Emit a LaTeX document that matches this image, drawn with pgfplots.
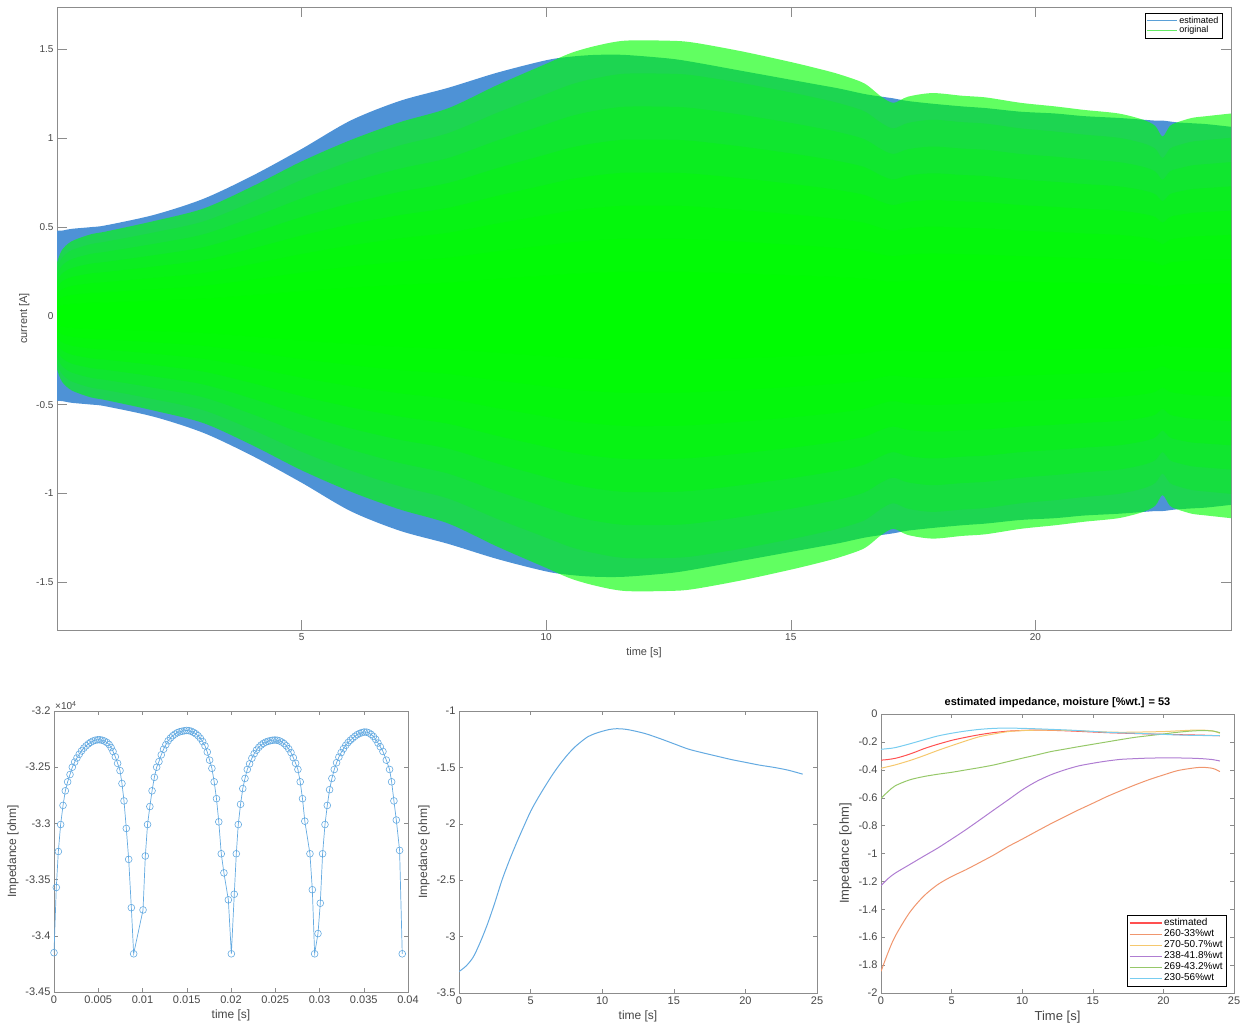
\documentclass[border=0pt]{standalone}
\usepackage{fontspec}
\setmainfont{Liberation Sans}
\usepackage{pgfplots}
\usepackage{pgfplotstable}
\pgfplotsset{compat=1.18}
\usepgfplotslibrary{fillbetween}

\definecolor{estblue}{RGB}{78,146,214}
\definecolor{orggreen}{RGB}{0,255,0}
\definecolor{legblue}{RGB}{90,160,215}
\definecolor{leggreen}{RGB}{100,235,100}
\definecolor{axgray}{RGB}{140,140,140}
\definecolor{txtgray}{RGB}{70,70,70}
\definecolor{zblue}{RGB}{100,170,225}
\definecolor{cred}{RGB}{255,80,80}
\definecolor{corange}{RGB}{240,150,110}
\definecolor{cyellow}{RGB}{245,200,110}
\definecolor{cpurple}{RGB}{175,125,210}
\definecolor{cgreen}{RGB}{150,200,105}
\definecolor{ccyan}{RGB}{120,205,240}

% envelope of the current signals (amplitude, symmetric)
\pgfplotstableread{
t     est    org
0     0.48   0.30
0.1   0.48   0.37
0.3   0.49   0.42
0.7   0.50   0.46
1     0.51   0.475
2     0.57   0.535
3     0.66   0.605
4     0.79   0.73
5     0.94   0.87
6     1.10   0.99
7     1.21   1.09
8     1.285  1.17
9     1.37   1.30
10    1.44   1.42
10.5  1.46   1.48
11    1.47   1.52
11.6  1.47   1.55
12.5  1.45   1.55
13    1.43   1.54
14    1.38   1.49
15    1.33   1.43
15.6  1.30   1.39
16    1.28   1.36
16.5  1.25   1.31
16.85 1.235  1.235
17.1  1.225  1.20
17.4  1.21   1.235
17.9  1.195  1.255
18.5  1.18   1.24
19    1.17   1.23
19.7  1.15   1.20
20.4  1.14   1.18
21    1.125  1.16
21.7  1.115  1.14
22.2  1.105  1.105
22.45 1.10   1.07
22.6  1.10   1.01
22.75 1.095  1.07
22.9  1.09   1.09
23.2  1.085  1.115
23.5  1.08   1.125
24    1.065  1.14
}\envtab

\pgfplotstableread{
t y
0 -3.415
0.00026 -3.357
0.00049 -3.325
0.00075 -3.301
0.00102 -3.284
0.00128 -3.271
0.00154 -3.263
0.00181 -3.2565
0.00207 -3.250
0.00233 -3.2455
0.00259 -3.2418
0.00285 -3.2385
0.00311 -3.2355
0.00337 -3.233
0.00363 -3.231
0.00389 -3.2292
0.00415 -3.2278
0.00441 -3.2267
0.00467 -3.226
0.00493 -3.2256
0.00519 -3.2256
0.00545 -3.226
0.00571 -3.2268
0.00597 -3.228
0.00623 -3.2298
0.00645 -3.2325
0.00667 -3.236
0.00693 -3.2407
0.00719 -3.2466
0.00746 -3.253
0.00768 -3.2645
0.00791 -3.280
0.00817 -3.3045
0.00844 -3.332
0.00874 -3.375
0.00900 -3.416
0.01006 -3.377
0.01032 -3.329
0.01057 -3.301
0.01083 -3.285
0.01108 -3.271
0.01134 -3.259
0.01160 -3.250
0.01186 -3.245
0.01212 -3.239
0.01238 -3.234
0.01264 -3.230
0.01290 -3.2265
0.01316 -3.224
0.01342 -3.222
0.01368 -3.2205
0.01394 -3.2193
0.01420 -3.2185
0.01446 -3.218
0.01472 -3.2176
0.01498 -3.2173
0.01524 -3.2175
0.01550 -3.218
0.01576 -3.219
0.01602 -3.2203
0.01628 -3.222
0.01654 -3.2243
0.01680 -3.2272
0.01706 -3.231
0.01732 -3.2365
0.01758 -3.2437
0.01784 -3.251
0.01810 -3.263
0.01836 -3.278
0.01862 -3.2986
0.01890 -3.327
0.01920 -3.344
0.01970 -3.368
0.02004 -3.416
0.02037 -3.363
0.02060 -3.327
0.02082 -3.301
0.02108 -3.283
0.02133 -3.269
0.02158 -3.260
0.02184 -3.252
0.02210 -3.247
0.02236 -3.242
0.02262 -3.238
0.02288 -3.2348
0.02314 -3.2323
0.02340 -3.2303
0.02366 -3.2288
0.02392 -3.2277
0.02418 -3.227
0.02444 -3.2264
0.02470 -3.226
0.02496 -3.2258
0.02522 -3.226
0.02548 -3.2266
0.02574 -3.2276
0.02600 -3.229
0.02626 -3.2310
0.02652 -3.2336
0.02678 -3.237
0.02704 -3.2415
0.02730 -3.2465
0.02756 -3.252
0.02782 -3.263
0.02808 -3.278
0.02834 -3.298
0.02892 -3.327
0.02919 -3.359
0.02945 -3.416
0.02983 -3.398
0.03009 -3.371
0.03035 -3.327
0.03062 -3.301
0.03088 -3.284
0.03114 -3.270
0.03140 -3.260
0.03167 -3.252
0.03193 -3.246
0.03219 -3.241
0.03245 -3.237
0.03271 -3.2335
0.03297 -3.2305
0.03323 -3.228
0.03349 -3.226
0.03375 -3.2242
0.03401 -3.2225
0.03427 -3.221
0.03453 -3.220
0.03479 -3.2192
0.03505 -3.2187
0.03531 -3.2188
0.03557 -3.2195
0.03583 -3.2208
0.03609 -3.2226
0.03635 -3.2252
0.03661 -3.2285
0.03687 -3.2318
0.03717 -3.236
0.03755 -3.2437
0.03792 -3.252
0.03815 -3.263
0.03841 -3.280
0.03868 -3.297
0.03905 -3.324
0.03935 -3.416
}\ztab

\pgfplotstableread{
t y
0 -3.31
0.5 -3.26
1 -3.18
1.5 -3.045
2 -2.885
2.5 -2.70
3 -2.50
3.5 -2.33
4 -2.175
4.5 -2.03
5 -1.89
5.5 -1.775
6 -1.67
6.5 -1.57
7 -1.48
7.5 -1.40
8 -1.33
8.5 -1.275
9 -1.228
9.5 -1.20
10 -1.18
10.5 -1.164
11 -1.157
11.5 -1.16
12 -1.17
13 -1.20
14 -1.243
15 -1.29
16 -1.337
17 -1.37
18 -1.40
19 -1.43
20 -1.455
21 -1.48
22 -1.50
23 -1.525
24 -1.56
}\midtab

\pgfplotstableread{
t a b c d e
0  -1.845 -0.389 -1.231 -0.604 -0.253
0.5 -1.71 -0.377 -1.18 -0.556 -0.248
1  -1.594 -0.365 -1.141 -0.515 -0.241
2  -1.427 -0.335 -1.081 -0.473 -0.215
3  -1.308 -0.300 -1.021 -0.449 -0.186
4  -1.224 -0.262 -0.962 -0.432 -0.158
5  -1.165 -0.227 -0.897 -0.418 -0.138
6  -1.117 -0.193 -0.830 -0.401 -0.122
7  -1.064 -0.162 -0.759 -0.384 -0.110
8  -1.010 -0.143 -0.687 -0.365 -0.103
9  -0.950 -0.126 -0.616 -0.341 -0.101
10 -0.897 -0.119 -0.544 -0.317 -0.103
11 -0.842 -0.116 -0.484 -0.294 -0.106
12 -0.788 -0.115 -0.437 -0.270 -0.110
13 -0.737 -0.117 -0.401 -0.252 -0.114
14 -0.687 -0.120 -0.372 -0.234 -0.119
15 -0.640 -0.125 -0.353 -0.217 -0.125
16 -0.592 -0.129 -0.337 -0.200 -0.131
17 -0.549 -0.131 -0.325 -0.183 -0.135
18 -0.508 -0.130 -0.320 -0.167 -0.138
19 -0.470 -0.128 -0.316 -0.155 -0.142
20 -0.437 -0.126 -0.315 -0.143 -0.146
21 -0.406 -0.121 -0.315 -0.131 -0.150
22 -0.389 -0.116 -0.317 -0.122 -0.153
22.7 -0.382 -0.115 -0.320 -0.119 -0.154
23.5 -0.390 -0.122 -0.327 -0.122 -0.155
24 -0.413 -0.138 -0.337 -0.134 -0.155
}\rtab

\pgfplotsset{
  mat/.style={
    scale only axis,
    axis line style={axgray},
    every tick/.style={axgray},
    tick align=inside,
    tick label style={font=\fontsize{11}{13}\selectfont, color=txtgray},
    label style={font=\fontsize{12}{14}\selectfont, color=txtgray},
    /pgf/number format/assume math mode=true,
    legend cell align=left,
  },
  % legend image with an explicit colour and length
  leg/.style 2 args={legend image code/.code={\draw[#1, line width=1.1pt] (0pt,0pt) -- (#2,0pt);}},
}

\newcommand{\glayer}[3]{%
  \addplot[draw=none, smooth, name path=u#1, forget plot] table[x=t, y expr={#2*\thisrow{org}}]{\envtab};
  \addplot[draw=none, smooth, name path=l#1, forget plot] table[x=t, y expr={-#2*\thisrow{org}}]{\envtab};
  \addplot[fill=orggreen, fill opacity=#3, draw=none, forget plot] fill between[of=u#1 and l#1];
}

\begin{document}
\begin{tikzpicture}

% ---------------- top plot ----------------
\begin{axis}[mat, at={(57pt,399pt)}, anchor=south west,
  width=1174pt, height=623pt,
  xmin=0, xmax=24, ymin=-1.77, ymax=1.74,
  xtick={5,10,15,20}, ytick={-1.5,-1,-0.5,0,0.5,1,1.5},
  major tick length=10pt,
  tick label style={font=\fontsize{10}{12}\selectfont},
  label style={font=\fontsize{11}{13}\selectfont},
  xlabel={time [s]}, ylabel={current [A]},
  legend style={at={(0.9925,0.99)}, anchor=north east,
    font=\fontsize{9}{10}\selectfont, inner sep=1.5pt, row sep=-2.5pt},
]
\addplot[draw=none, smooth, name path=eu, forget plot] table[x=t, y=est]{\envtab};
\addplot[draw=none, smooth, name path=el, forget plot] table[x=t, y expr={-\thisrow{est}}]{\envtab};
\addplot[fill=estblue, draw=none, forget plot] fill between[of=eu and el];
\glayer{a}{1}{0.62}
\glayer{b}{0.88}{0.22}
\glayer{c}{0.76}{0.25}
\glayer{d}{0.64}{0.3}
\glayer{e}{0.52}{0.35}
\glayer{f}{0.40}{0.4}
\glayer{g}{0.28}{0.45}
\glayer{h}{0.16}{0.5}
\addlegendimage{leg={legblue}{30pt}}
\addlegendentry{estimated}
\addlegendimage{leg={leggreen}{30pt}}
\addlegendentry{original}
\end{axis}

% ---------------- bottom left ----------------
\begin{axis}[mat, at={(54pt,37pt)}, anchor=south west,
  width=354pt, height=281pt,
  xmin=0, xmax=0.04, ymin=-3.45, ymax=-3.2,
  scaled x ticks=false, scaled y ticks=false,
  xtick={0,0.005,0.01,0.015,0.02,0.025,0.03,0.035,0.04},
  xticklabels={0,0.005,0.01,0.015,0.02,0.025,0.03,0.035,0.04},
  ytick={-3.45,-3.4,-3.35,-3.3,-3.25,-3.2},
  yticklabels={-3.45,-3.4,-3.35,-3.3,-3.25,-3.2},
  major tick length=4pt, clip mode=individual,
  xlabel={time [s]}, ylabel={Impedance [ohm]},
]
\addplot[draw=zblue, line width=0.7pt, mark=o, mark size=3.4pt,
  mark options={line width=0.6pt, draw=zblue}] table[x=t, y=y]{\ztab};
\node[anchor=south west, inner sep=1pt, color=txtgray,
  font=\fontsize{10}{12}\selectfont] at (rel axis cs:0,1) {×10\textsuperscript{4}};
\end{axis}

% ---------------- bottom middle ----------------
\begin{axis}[mat, at={(459pt,36pt)}, anchor=south west,
  width=358pt, height=282pt,
  xmin=0, xmax=25, ymin=-3.5, ymax=-1,
  xtick={0,5,10,15,20,25},
  ytick={-3.5,-3,-2.5,-2,-1.5,-1},
  major tick length=4pt,
  xlabel={time [s]}, ylabel={Impedance [ohm]},
]
\addplot[draw=zblue, line width=1pt, smooth] table[x=t, y=y]{\midtab};
\node[anchor=south west, inner sep=1pt, color=txtgray,
  font=\fontsize{10}{12}\selectfont] at (rel axis cs:0,1) {×10\textsuperscript{4}};
\end{axis}

% ---------------- bottom right ----------------
\begin{axis}[mat, at={(881pt,36pt)}, anchor=south west,
  width=353pt, height=279pt,
  xmin=0, xmax=25, ymin=-2, ymax=0,
  xtick={0,5,10,15,20,25},
  ytick={-2,-1.8,-1.6,-1.4,-1.2,-1,-0.8,-0.6,-0.4,-0.2,0},
  yticklabels={-2,-1.8,-1.6,-1.4,-1.2,-1,-0.8,-0.6,-0.4,-0.2,0},
  major tick length=4pt,
  label style={font=\fontsize{13}{15}\selectfont},
  xlabel={Time [s]}, ylabel={Impedance [ohm]},
  title={estimated impedance, moisture [\%wt.] = 53},
  title style={font=\bfseries\fontsize{11}{13}\selectfont, color=black, yshift=-3pt},
  legend style={at={(0.978,0.025)}, anchor=south east,
    font=\fontsize{10}{11}\selectfont, inner sep=1.5pt, row sep=-1.5pt},
]
\addplot[draw=cred, line width=1pt, smooth, leg={cred}{32pt}] table[x=t, y expr={\thisrow{y}/10}]{\midtab};
\addlegendentry{estimated}
\addplot[draw=corange, line width=1pt, smooth, leg={corange}{32pt}] table[x=t, y=a]{\rtab};
\addlegendentry{260-33\%wt}
\addplot[draw=cyellow, line width=1pt, smooth, leg={cyellow}{32pt}] table[x=t, y=b]{\rtab};
\addlegendentry{270-50.7\%wt}
\addplot[draw=cpurple, line width=1pt, smooth, leg={cpurple}{32pt}] table[x=t, y=c]{\rtab};
\addlegendentry{238-41.8\%wt}
\addplot[draw=cgreen, line width=1pt, smooth, leg={cgreen}{32pt}] table[x=t, y=d]{\rtab};
\addlegendentry{269-43.2\%wt}
\addplot[draw=ccyan, line width=1pt, smooth, leg={ccyan}{32pt}] table[x=t, y=e]{\rtab};
\addlegendentry{230-56\%wt}
\node[anchor=south west, inner sep=1pt, color=txtgray,
  font=\fontsize{10}{12}\selectfont] at (rel axis cs:0,1) {×10\textsuperscript{5}};
\end{axis}

\path (0,0) rectangle (1247pt,1029pt);
\end{tikzpicture}
\end{document}
